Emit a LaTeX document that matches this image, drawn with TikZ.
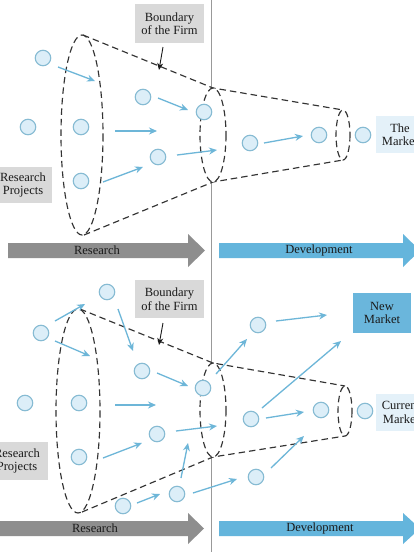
\documentclass[tikz,border=0pt]{standalone}
\usepackage{fontspec}
\setmainfont{Liberation Serif}
\usetikzlibrary{arrows.meta}
\definecolor{circfill}{HTML}{DCEEF8}
\definecolor{circline}{HTML}{86BBD3}
\definecolor{flowc}{HTML}{6DB6D8}
\definecolor{greyarrow}{HTML}{8E8E8E}
\definecolor{devarrow}{HTML}{64B5DC}
\definecolor{greybox}{HTML}{D9D9D9}
\definecolor{lightbox}{HTML}{E4F1F9}
\definecolor{newbox}{HTML}{6AB6DC}
\definecolor{dashc}{HTML}{333333}
\definecolor{txtc}{HTML}{1A1A1A}
\begin{document}
\begin{tikzpicture}[x=1pt,y=-1pt,
  proj/.style={circle,draw=circline,fill=circfill,line width=1.1pt,minimum size=15.5pt,inner sep=0pt},
  flow/.style={draw=flowc,line width=1.3pt,-{Stealth[length=8pt,width=7pt]}},
  bound/.style={draw=dashc,dash pattern=on 6.5pt off 4pt,line width=1.15pt},
  txt/.style={font=\fontsize{12.5}{13.5}\selectfont,text=txtc,align=center,inner sep=0pt},
  tagbox/.style={txt,minimum width=#1,minimum height=37pt},
  pointer/.style={draw=txtc,line width=0.9pt,-{Stealth[length=7pt,width=6pt]}}
]
\useasboundingbox (0,0) rectangle (414,552);
\clip (0,0) rectangle (414,552);
\fill[white] (0,0) rectangle (414,552);

% divider
\draw[draw=gray!80,line width=0.9pt] (211,0) -- (211,552);

% ===== TOP PANEL =====
\draw[bound] (83,35) -- (213,88) -- (343,110);
\draw[bound] (84,235) -- (213,182) -- (343,160);
\draw[bound] (82,135) ellipse [x radius=21, y radius=100];
\draw[bound,fill=white] (213,135) ellipse [x radius=13, y radius=47];
\draw[bound] (343,135) ellipse [x radius=7, y radius=25];

\node[proj] (t1) at (43,58) {};
\node[proj] (t2) at (28,127) {};
\node[proj] (t3) at (81,127) {};
\node[proj] (t4) at (81,181) {};
\node[proj] (t5) at (143,97) {};
\node[proj] (t6) at (158,157) {};
\node[proj] (t7) at (204,112) {};
\node[proj] (t8) at (250,143) {};
\node[proj] (t9) at (319,135) {};
\node[proj] (t10) at (363,135) {};

\coordinate (a1s) at (58,67);   \coordinate (a1e) at (95,81);
\coordinate (a2s) at (115,131); \coordinate (a2e) at (157,131);
\coordinate (a3s) at (103,182); \coordinate (a3e) at (143,167);
\coordinate (a4s) at (158,98);  \coordinate (a4e) at (188,110);
\coordinate (a5s) at (177,155); \coordinate (a5e) at (217,150);
\coordinate (a6s) at (264,143); \coordinate (a6e) at (303,136);
\foreach \i in {1,...,6} { \draw[flow] (a\i s) -- (a\i e); }

\node[tagbox=69pt,minimum height=39pt,fill=greybox] (tb) at (169.5,23.5) {Boundary\\of the Firm};
\coordinate (tbs) at (163,47); \coordinate (tbe) at (159,70);
\draw[pointer] (tbs) -- (tbe);
\node[tagbox=64pt,minimum height=36pt,fill=greybox] (trp) at (20,185) {};
\node[txt] (trpt) at (23,185) {Research\\Projects};
\node[tagbox=54pt,fill=lightbox] (tm) at (403,134.5) {};
\node[txt] (tmt) at (400,134.5) {The\\Market};

\fill[greyarrow] (8,243) -- (188,243) -- (188,234) -- (205,250.5) -- (188,267) -- (188,258) -- (8,258) -- cycle;
\node[txt] (tra) at (97,250.5) {Research};
\fill[devarrow] (219,243) -- (403,243) -- (403,234) -- (420,250.5) -- (403,267) -- (403,258) -- (219,258) -- cycle;
\node[txt] (tda) at (319,250.5) {Development};

% ===== BOTTOM PANEL =====
\draw[bound] (80,309) -- (213,363) -- (345,386);
\draw[bound] (82,512) -- (213,457) -- (345,436);
\draw[bound] (78,411) ellipse [x radius=22, y radius=102];
\draw[bound,fill=white] (213,410) ellipse [x radius=13, y radius=47];
\draw[bound] (345,411) ellipse [x radius=7, y radius=25];

\node[proj] (b1) at (107,292) {};
\node[proj] (b2) at (41,333) {};
\node[proj] (b3) at (25,403) {};
\node[proj] (b4) at (79,403) {};
\node[proj] (b5) at (79,457) {};
\node[proj] (b6) at (142,371) {};
\node[proj] (b7) at (157,434) {};
\node[proj] (b8) at (203,388) {};
\node[proj] (b9) at (123,506) {};
\node[proj] (b10) at (177,494) {};
\node[proj] (b11) at (258,325) {};
\node[proj] (b12) at (251,419) {};
\node[proj] (b13) at (321,410) {};
\node[proj] (b14) at (365,411) {};
\node[proj] (b15) at (256,477) {};

\coordinate (c1s) at (55,321);   \coordinate (c1e) at (85,304);
\coordinate (c2s) at (55,341);   \coordinate (c2e) at (90,356);
\coordinate (c3s) at (118,309);  \coordinate (c3e) at (133,351);
\coordinate (c4s) at (115,405);  \coordinate (c4e) at (156,405);
\coordinate (c5s) at (103,458);  \coordinate (c5e) at (142,443);
\coordinate (c6s) at (157,373);  \coordinate (c6e) at (188,386);
\coordinate (c7s) at (176,431);  \coordinate (c7e) at (217,426);
\coordinate (c8s) at (137,503);  \coordinate (c8e) at (160,494);
\coordinate (c9s) at (181,478);  \coordinate (c9e) at (188,443);
\coordinate (c10s) at (193,493); \coordinate (c10e) at (237,479);
\coordinate (c11s) at (216,374); \coordinate (c11e) at (247,339);
\coordinate (c12s) at (276,321); \coordinate (c12e) at (327,315);
\coordinate (c13s) at (262,408); \coordinate (c13e) at (341,341);
\coordinate (c14s) at (266,418); \coordinate (c14e) at (304,412);
\coordinate (c15s) at (271,468); \coordinate (c15e) at (304,436);
\foreach \i in {1,...,15} { \draw[flow] (c\i s) -- (c\i e); }

\node[tagbox=69pt,minimum height=38pt,fill=greybox] (bb) at (169.5,299) {Boundary\\of the Firm};
\coordinate (bbs) at (163,323); \coordinate (bbe) at (159,345);
\draw[pointer] (bbs) -- (bbe);
\node[tagbox=62pt,minimum height=38pt,fill=greybox] (brp) at (17,461) {Research\\Projects};
\node[tagbox=58pt,minimum height=40pt,fill=newbox] (nm) at (382,313) {New\\Market};
\node[tagbox=54pt,fill=lightbox] (cm) at (403,412.5) {};
\node[txt] (cmt) at (401,412.5) {Current\\Market};

\fill[greyarrow] (-5,521) -- (188,521) -- (188,513) -- (204,528.5) -- (188,544) -- (188,536) -- (-5,536) -- cycle;
\node[txt] (bra) at (95,528.5) {Research};
\fill[devarrow] (219,521) -- (403,521) -- (403,513) -- (420,528.5) -- (403,544) -- (403,536) -- (219,536) -- cycle;
\node[txt] (bda) at (320,528.5) {Development};
\end{tikzpicture}
\end{document}
